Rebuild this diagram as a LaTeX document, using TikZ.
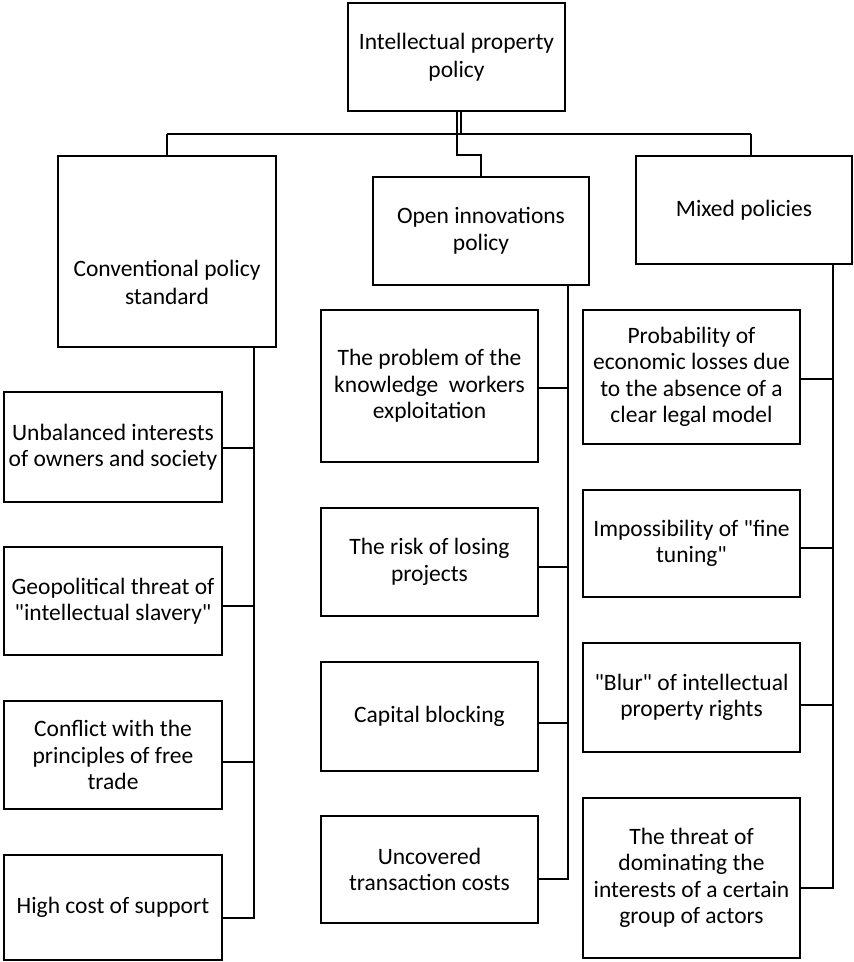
\documentclass[tikz,border=0pt]{standalone}
\usepackage{fontspec}
\setmainfont{Carlito}[Ligatures=TeXOff]
\begin{document}
\begin{tikzpicture}[x=1pt,y=-1pt,
  box/.style={draw, line width=2.2pt, align=center, inner sep=0pt,
    font=\fontsize{23.5pt}{26.5pt}\selectfont},
  conn/.style={draw, line width=1.9pt}]
\useasboundingbox (0,0) rectangle (854,962);
% top level
\node[box, minimum width=217, minimum height=108, font=\fontsize{23.5pt}{28pt}\selectfont] (top) at (456.5,57) {Intellectual property\\policy};
\node[box, minimum width=218, minimum height=191,
  label={[yshift=-31pt, align=center, font=\fontsize{23.5pt}{28pt}\selectfont]center:Conventional policy\\standard}] (cps) at (167,251.5) {};
\node[box, minimum width=216, minimum height=108] (oip) at (481,231) {Open innovations\\policy};
\node[box, minimum width=216, minimum height=108] (mix) at (744,210) {Mixed policies};
% left column
\node[box, minimum width=218, minimum height=110] (L1) at (113,447) {Unbalanced interests\\of owners and society};
\node[box, minimum width=218, minimum height=108] (L2) at (113,601) {Geopolitical threat of\\"intellectual slavery"};
\node[box, minimum width=218, minimum height=108] (L3) at (113,755) {Conflict with the\\principles of free\\trade};
\node[box, minimum width=218, minimum height=105] (L4) at (113,907.5) {High cost of support};
% middle column
\node[box, minimum width=217, minimum height=152] (M1) at (429.5,386) {The problem of the\\knowledge\ \ workers\\exploitation};
\node[box, minimum width=217, minimum height=108] (M2) at (429.5,562) {The risk of losing\\projects};
\node[box, minimum width=217, minimum height=109] (M3) at (429.5,716.5) {Capital blocking};
\node[box, minimum width=217, minimum height=107] (M4) at (429.5,869.5) {Uncovered\\transaction costs};
% right column
\node[box, minimum width=217, minimum height=134] (R1) at (691.5,377) {Probability of\\economic losses due\\to the absence of a\\clear legal model};
\node[box, minimum width=217, minimum height=107] (R2) at (691.5,543.5) {Impossibility of "fine\\tuning"};
\node[box, minimum width=217, minimum height=109] (R3) at (691.5,697.5) {"Blur" of intellectual\\property rights};
\node[box, minimum width=217, minimum height=160] (R4) at (691.5,878) {The threat of\\dominating the\\interests of a certain\\group of actors};
% bus coordinates
\coordinate (busL) at (167,134);
\coordinate (busR) at (751,134);
\coordinate (busM) at (457,134);
\coordinate (busM2) at (461,134);
\coordinate (lv) at (254,0);
\coordinate (mv) at (568,0);
\coordinate (rv) at (833,0);
% top connectors
\draw[conn] (busL) -- (busR);
\draw[conn] (busL) -- (cps.north);
\draw[conn] (busR) -- (busR |- mix.north);
\draw[conn] (top.south -| busM) -- (busM) -- ++(0,21) -| (oip.north);
\draw[conn] (top.south -| busM2) -- (busM2);
% left branch
\draw[conn] (cps.south -| lv) |- ([yshift=-10.5pt]L4.east);
\draw[conn] ([yshift=-1pt]L1.east) -- ([yshift=-1pt]L1.east -| lv);
\draw[conn] ([yshift=-5pt]L2.east) -- ([yshift=-5pt]L2.east -| lv);
\draw[conn] ([yshift=-7pt]L3.east) -- ([yshift=-7pt]L3.east -| lv);
% middle branch
\draw[conn] (oip.south -| mv) |- ([yshift=-9.5pt]M4.east);
\draw[conn] ([yshift=-2pt]M1.east) -- ([yshift=-2pt]M1.east -| mv);
\draw[conn] ([yshift=-5pt]M2.east) -- ([yshift=-5pt]M2.east -| mv);
\draw[conn] ([yshift=-6.5pt]M3.east) -- ([yshift=-6.5pt]M3.east -| mv);
% right branch
\draw[conn] (mix.south -| rv) |- ([yshift=-10pt]R4.east);
\draw[conn] ([yshift=-2pt]R1.east) -- ([yshift=-2pt]R1.east -| rv);
\draw[conn] ([yshift=-4.5pt]R2.east) -- ([yshift=-4.5pt]R2.east -| rv);
\draw[conn] ([yshift=-7.5pt]R3.east) -- ([yshift=-7.5pt]R3.east -| rv);
\end{tikzpicture}
\end{document}
